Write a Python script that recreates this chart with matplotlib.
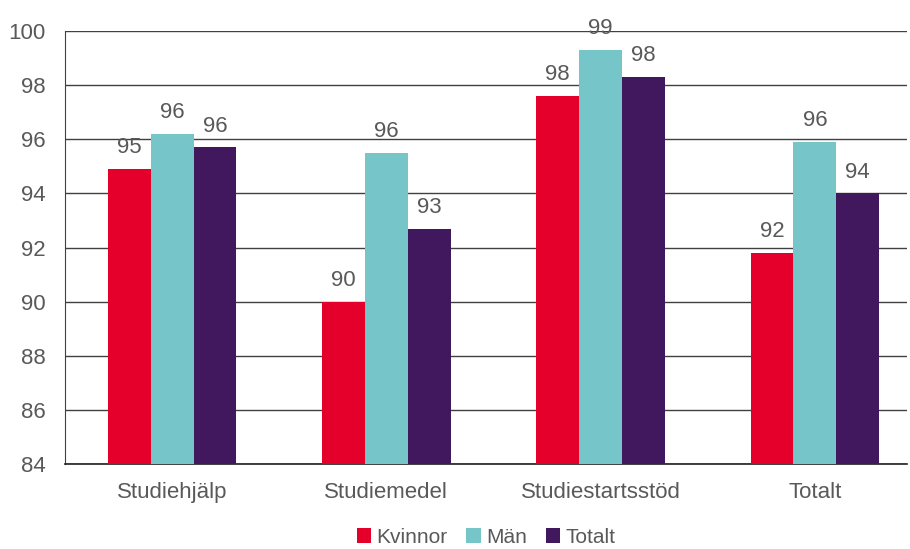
import numpy as np
import matplotlib.pyplot as plt

plt.rcParams['font.family'] = ['Liberation Sans', 'DejaVu Sans']

categories = ['Studiehjälp', 'Studiemedel', 'Studiestartsstöd', 'Totalt']
kvinnor = [94.9, 90.0, 97.6, 91.8]
man = [96.2, 95.5, 99.3, 95.9]
totalt = [95.7, 92.7, 98.3, 94.0]

series = [('Kvinnor', kvinnor, '#E4002B'),
          ('Män', man, '#76C5C8'),
          ('Totalt', totalt, '#41185E')]

fig = plt.figure(figsize=(9.1, 5.49), dpi=100)
ax = fig.add_axes([0.0714, 0.1548, 0.9253, 0.7887])

x = np.arange(len(categories))
w = 0.2
txt = '#595959'
for i, (name, vals, col) in enumerate(series):
    pos = x + (i - 1) * w
    ax.bar(pos, np.array(vals) - 84, width=w, bottom=84, color=col, label=name, zorder=3)
    for p, v in zip(pos, vals):
        ax.text(p, v + 0.4, f'{v:.0f}', ha='center', va='bottom', fontsize=16, color=txt)

ax.set_ylim(84, 100)
ax.set_xlim(-0.5, 3.43)
ax.set_yticks(range(84, 101, 2))
ax.set_xticks(x)
ax.set_xticklabels(categories)
ax.tick_params(axis='both', length=0, labelsize=16, colors=txt)
ax.tick_params(axis='x', pad=13)
ax.tick_params(axis='y', pad=14)
ax.grid(axis='y', color='#404040', linewidth=1, zorder=0)
for s in ['top', 'right']:
    ax.spines[s].set_visible(False)
ax.spines['left'].set_color('#404040')
ax.spines['bottom'].set_color('#202020')
ax.spines['bottom'].set_linewidth(1.2)

ax.legend(loc='upper center', bbox_to_anchor=(0.5, -0.128), ncol=3, frameon=False,
          fontsize=15, handlelength=0.7, handleheight=0.7, handletextpad=0.25,
          columnspacing=0.9, labelcolor=txt, borderaxespad=0)

fig.savefig('out.png', dpi=100)
